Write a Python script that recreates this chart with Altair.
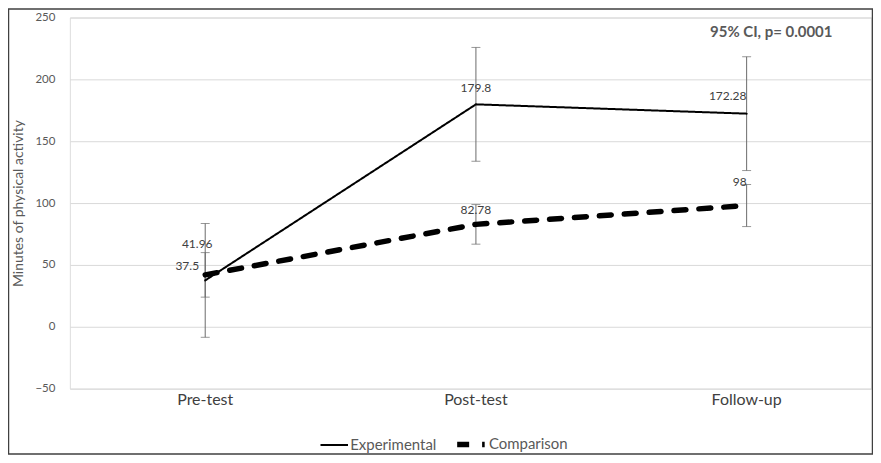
import altair as alt
import pandas as pd

phases = ["Pre-test", "Post-test", "Follow-up"]
series = ["Experimental", "Comparison"]
exp_mean = [37.5, 179.8, 172.28]
exp_err = [46, 46, 46]
comp_mean = [41.96, 82.78, 98]
comp_err = [18, 16, 17]
y_ticks = [-50, 0, 50, 100, 150, 200, 250]
annotation = "95% CI, p= 0.0001"

rows = []
for s, means, errs in [("Experimental", exp_mean, exp_err), ("Comparison", comp_mean, comp_err)]:
    for p, m, e in zip(phases, means, errs):
        rows.append({"phase": p, "series": s, "value": m, "lo": m - e, "hi": m + e,
                     "label": f"{m:g}"})
df = pd.DataFrame(rows)

W, H = 803, 372
FONT = "Lato"

xscale = alt.Scale(type="band", domain=phases, range=[0, 814], paddingInner=0, paddingOuter=0)
yscale = alt.Scale(domain=[-50, 250], nice=False)

x = alt.X("phase:N", sort=phases, title=None, scale=xscale,
          axis=alt.Axis(labelAngle=0, ticks=False, domain=False, labelFontSize=16,
                        labelColor="#404040", labelPadding=3, labelFont=FONT))
y = alt.Y("value:Q", title="Minutes of physical activity", scale=yscale,
          axis=alt.Axis(values=y_ticks, ticks=False, domain=False, labelFontSize=11.5,
                        labelColor="#595959", labelPadding=15, gridColor="#d9d9d9",
                        titleFontSize=14, titleFontWeight="normal", titleColor="#595959",
                        titlePadding=9, labelFont=FONT, titleFont=FONT))

base = alt.Chart(df)

ERRC = "#6b6b6b"
err_rule = base.mark_rule(color=ERRC, strokeWidth=1).encode(
    x=x, y=alt.Y("lo:Q", scale=yscale), y2="hi:Q")
cap_lo = base.mark_tick(color=ERRC, orient="horizontal", size=9, thickness=1).encode(
    x=x, y=alt.Y("lo:Q", scale=yscale))
cap_hi = base.mark_tick(color=ERRC, orient="horizontal", size=9, thickness=1).encode(
    x=x, y=alt.Y("hi:Q", scale=yscale))

leg = alt.Legend(title=None, orient="none", legendX=250, legendY=411,
                 direction="horizontal", symbolType="stroke",
                 symbolSize=760, symbolStrokeColor="black",
                 labelFontSize=15, labelColor="#595959",
                 labelFont=FONT, labelOffset=1, columnPadding=9)

lines = base.mark_line(color="black", strokeCap="round").encode(
    x=x, y=y,
    detail="series:N",
    strokeDash=alt.StrokeDash("series:N", sort=series,
                              scale=alt.Scale(domain=series, range=[[1, 0], [12, 13]]),
                              legend=leg),
    strokeWidth=alt.StrokeWidth("series:N", sort=series,
                                scale=alt.Scale(domain=series, range=[2, 5.5]),
                                legend=leg),
)

offsets = {
    ("Experimental", "Pre-test"): (-18, -14),
    ("Comparison", "Pre-test"): (-8, -31),
    ("Experimental", "Post-test"): (0, -16),
    ("Comparison", "Post-test"): (0, -14),
    ("Experimental", "Follow-up"): (-19, -18),
    ("Comparison", "Follow-up"): (-7, -24),
}
labels = []
for (s, p), (dx, dy) in offsets.items():
    labels.append(
        base.transform_filter((alt.datum.series == s) & (alt.datum.phase == p))
        .mark_text(fontSize=12, color="#404040", font=FONT, dx=dx, dy=dy)
        .encode(x=x, y=y, text="label:N")
    )

one = pd.DataFrame({"a": [0]})

note = alt.Chart(one).mark_text(fontSize=15, fontWeight="bold", color="#595959", font=FONT).encode(
    x=alt.value(703), y=alt.value(15), text=alt.value(annotation))

border = alt.Chart(one).mark_rect(fill=None, stroke="#404040", strokeWidth=1.5).encode(
    x=alt.value(-61.5), x2=alt.value(W + 1.5), y=alt.value(-8.5), y2=alt.value(H + 65.5))

chart = alt.layer(err_rule, cap_lo, cap_hi, lines, *labels, note, border).properties(
    width=W, height=H,
    autosize=alt.AutoSizeParams(type="none"),
    padding={"left": 62, "top": 9, "right": 2, "bottom": 66},
).configure_view(stroke=None).configure(font=FONT)

chart.save("out.html", embed_options={"renderer": "svg", "actions": False})
